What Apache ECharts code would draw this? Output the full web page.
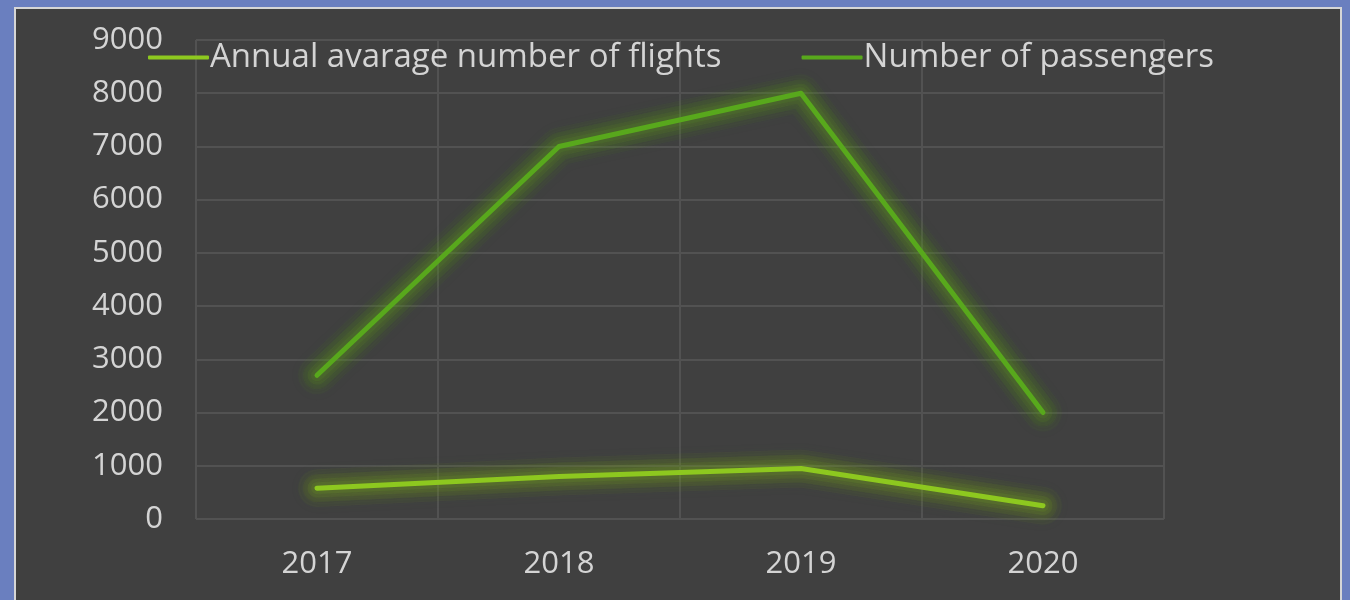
<!DOCTYPE html>
<html>
<head>
<meta charset="utf-8">
<script src="https://cdn.jsdelivr.net/npm/echarts@6/dist/echarts.min.js"></script>
<style>
  html, body { margin: 0; padding: 0; width: 1350px; height: 600px; overflow: hidden; background: #6a7fbf; }
  #frame { position: absolute; left: 14px; top: 7px; width: 1324px; height: 610px; border: 2px solid #d6d6d6; background: #404040; }
  #chart { position: absolute; left: 0; top: 0; width: 1350px; height: 600px; }
</style>
</head>
<body>
<div id="frame"></div>
<div id="chart"></div>
<script>
const categories = ['2017', '2018', '2019', '2020'];
const flights = [580, 800, 950, 250];
const passengers = [2700, 7000, 8000, 2000];
const seriesNames = ['Annual avarage number of flights', 'Number of passengers'];

const FONT = 'Open Sans';

function glowLayers(data, rgb) {
  const layers = [[38, 0.06], [28, 0.08], [19, 0.10], [12, 0.12]];
  return layers.map(function (l) {
    return {
      name: 'glow', type: 'line', data: data, silent: true,
      showSymbol: false, symbol: 'none', z: 1,
      lineStyle: { color: 'rgba(' + rgb + ',' + l[1] + ')', width: l[0], cap: 'round', join: 'round',
        shadowBlur: 12, shadowColor: 'rgba(' + rgb + ',0.6)' },
      tooltip: { show: false }
    };
  });
}

const chart = echarts.init(document.getElementById('chart'), null, { renderer: 'canvas' });
chart.setOption({
  backgroundColor: 'transparent',
  animation: false,
  grid: { left: 196, right: 186, top: 40, bottom: 81 },
  legend: {
    top: 36, left: 143,
    itemWidth: 61, itemHeight: 4, itemGap: 80,
    icon: 'roundRect',
    textStyle: { color: '#d4d4d4', fontSize: 33, fontFamily: FONT, padding: [0, 0, 0, -4] },
    data: seriesNames
  },
  xAxis: {
    type: 'category',
    data: categories,
    boundaryGap: true,
    axisLine: { show: false },
    axisTick: { show: false },
    axisLabel: { color: '#d4d4d4', fontSize: 31, fontFamily: FONT, margin: 30 },
    splitLine: { show: true, lineStyle: { color: '#525252', width: 2 } }
  },
  yAxis: {
    type: 'value',
    min: 0, max: 9000, interval: 1000,
    axisLine: { show: false },
    axisTick: { show: false },
    axisLabel: { color: '#d4d4d4', fontSize: 31, fontFamily: FONT, margin: 33,
      formatter: function (v) { return String(v); } },
    splitLine: { lineStyle: { color: '#525252', width: 2 } }
  },
  series: [].concat(
    glowLayers(flights, '125,175,30'),
    glowLayers(passengers, '95,160,30'),
    [
      {
        name: seriesNames[0], type: 'line', data: flights, z: 3,
        showSymbol: false, symbol: 'none',
        itemStyle: { color: '#8dc81f' },
        lineStyle: { color: '#8dc81f', width: 5, cap: 'round', join: 'round' }
      },
      {
        name: seriesNames[1], type: 'line', data: passengers, z: 3,
        showSymbol: false, symbol: 'none',
        itemStyle: { color: '#58a81c' },
        lineStyle: { color: '#58a81c', width: 5, cap: 'round', join: 'round' }
      }
    ]
  )
});
</script>
</body>
</html>
